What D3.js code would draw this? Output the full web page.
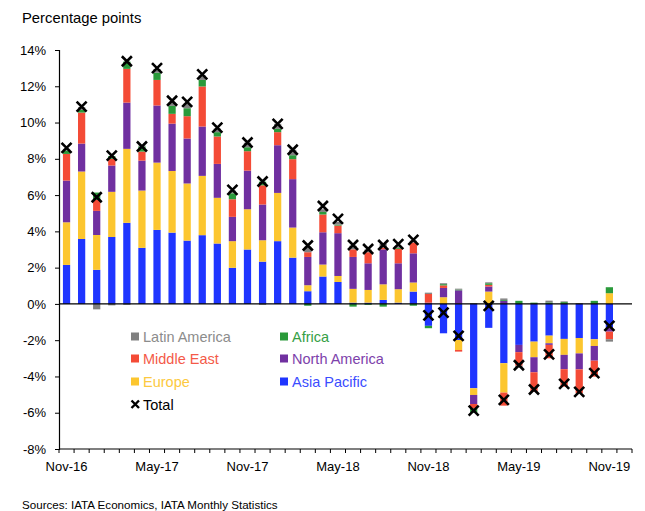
<!DOCTYPE html>
<html>
<head>
<meta charset="utf-8">
<script src="https://cdn.jsdelivr.net/npm/d3@7"></script>
<style>
  body { margin: 0; background: #fff; }
  text { font-family: "Liberation Sans", Arial, sans-serif; }
</style>
</head>
<body>
<div id="chart"></div>
<script>
// months on the category axis
var months = ["Nov-16","Dec-16","Jan-17","Feb-17","Mar-17","Apr-17","May-17","Jun-17","Jul-17","Aug-17","Sep-17","Oct-17",
  "Nov-17","Dec-17","Jan-18","Feb-18","Mar-18","Apr-18","May-18","Jun-18","Jul-18","Aug-18","Sep-18","Oct-18",
  "Nov-18","Dec-18","Jan-19","Feb-19","Mar-19","Apr-19","May-19","Jun-19","Jul-19","Aug-19","Sep-19","Oct-19","Nov-19"];

// contributions by region, percentage points
var asiaPacific = [2.15,3.58,1.88,3.69,4.47,3.09,4.08,3.93,3.49,3.79,3.33,1.99,3.0,2.33,3.46,2.55,0.7,1.51,1.21,0.07,0.07,0.22,0.07,0.68,-1.21,-1.62,-1.99,-4.65,-1.32,-3.27,-2.26,-2.08,-1.75,-1.93,-1.88,-1.95,-1.29];
var europe = [2.35,3.72,1.92,2.49,4.08,3.16,3.71,3.4,3.15,3.27,2.52,1.47,2.22,1.18,2.66,1.66,0.33,0.66,0.33,0.76,0.7,0.86,0.74,0.5,0,0.37,-0.55,-0.37,0.68,-1.62,0,-0.86,-0.42,-0.88,-0.85,-0.37,0.59];
var northAmerica = [2.3,1.54,1.33,1.45,2.55,1.65,3.15,2.61,2.48,2.72,1.87,1.34,2.13,1.97,2.63,2.67,1.56,1.78,2.36,1.76,1.47,1.93,1.43,1.61,0.07,0.51,0.75,-0.5,0.28,0.17,-0.4,-0.83,-0.09,-0.79,-0.88,-0.81,-0.24];
var middleEast = [1.47,1.71,0.61,0.37,1.86,0.5,1.41,0.54,1.23,2.21,1.51,0.97,1.07,1.06,0.72,1.1,0.26,0.98,0.42,0.42,0.61,0.1,0.8,0.6,0.48,0.14,-0.09,-0.24,0.09,-0.72,-0.75,-1.07,-0.74,-0.96,-1.32,-0.88,-0.42];
var africa = [0.18,0.15,0.4,0.15,0.4,0.28,0.4,0.44,0.44,0.36,0.24,0.33,0.22,0.2,0.18,0.22,-0.1,0.14,0.05,-0.15,-0.05,-0.15,0.05,-0.1,-0.13,0.07,0.04,-0.24,0.09,0.05,0.17,0.07,0.08,0.1,0,0.17,0.33];
var latinAmerica = [0.1,0.15,-0.3,-0.08,-0.05,0.05,0.2,0.2,0.25,0.25,0.2,0.15,0.25,-0.05,0.28,0.3,0.3,0.15,0.15,0.2,0.15,0.2,0.1,0.1,0.07,0.05,0.05,0.05,0.05,0.08,-0.1,0,0.1,0.04,0.05,0,-0.13];
var total = [8.6,10.88,5.88,8.18,13.38,8.68,13.0,11.2,11.14,12.66,9.72,6.29,8.9,6.75,9.93,8.5,3.22,5.4,4.69,3.25,3.03,3.25,3.3,3.53,-0.63,-0.48,-1.76,-5.88,-0.11,-5.29,-3.38,-4.72,-2.78,-4.41,-4.85,-3.82,-1.21];

var yTicks = [-8,-6,-4,-2,0,2,4,6,8,10,12,14];

var series = [
  {key: "Asia Pacific", values: asiaPacific, color: "#1f35ff", text: "#3b4dff"},
  {key: "Europe", values: europe, color: "#fcc62f", text: "#fcc940"},
  {key: "North America", values: northAmerica, color: "#7030a0", text: "#7d42ab"},
  {key: "Middle East", values: middleEast, color: "#f44b36", text: "#f45a48"},
  {key: "Africa", values: africa, color: "#2a9a3a", text: "#36a046"},
  {key: "Latin America", values: latinAmerica, color: "#808080", text: "#8c8c8c"}
];

var W = 645, H = 511;
var svg = d3.select("#chart").append("svg")
    .attr("width", W)
    .attr("height", H);

var plotLeft = 59, plotRight = 632, plotTop = 50, plotBottom = 449;

// one empty slot after the last month, as in the original
var x = d3.scaleBand()
    .domain(d3.range(months.length + 1))
    .range([plotLeft, plotRight])
    .paddingInner(0.52)
    .paddingOuter(0.26);

var y = d3.scaleLinear()
    .domain([-8, 14])
    .range([plotBottom, plotTop]);

var slot = (plotRight - plotLeft) / (months.length + 1);

// table for the stack
var table = months.map(function(m, i) {
  var row = {i: i};
  series.forEach(function(s) { row[s.key] = s.values[i]; });
  return row;
});

var stack = d3.stack()
    .keys(series.map(function(s) { return s.key; }))
    .offset(d3.stackOffsetDiverging);

var layers = stack(table);

svg.append("g").selectAll("g")
  .data(layers)
  .enter().append("g")
    .attr("fill", function(d, k) { return series[k].color; })
  .selectAll("rect")
  .data(function(d) { return d; })
  .enter().append("rect")
    .attr("x", function(d) { return x(d.data.i); })
    .attr("width", x.bandwidth())
    .attr("y", function(d) { return y(Math.max(d[0], d[1])); })
    .attr("height", function(d) { return Math.abs(y(d[0]) - y(d[1])); });

// zero line
svg.append("line")
    .attr("x1", plotLeft).attr("x2", plotRight)
    .attr("y1", y(0)).attr("y2", y(0))
    .attr("stroke", "#000").attr("stroke-width", 1.3);

// y axis
var yAxis = svg.append("g")
    .attr("transform", "translate(" + plotLeft + ",0)")
    .call(d3.axisLeft(y).tickValues(yTicks).tickSize(4).tickPadding(9)
      .tickFormat(function(d) { return d + "%"; }));
yAxis.select(".domain").attr("stroke", "#000").attr("stroke-width", 1.2);
yAxis.selectAll("text").attr("font-size", "13px").attr("fill", "#000")
    .style("font-family", "'Liberation Sans', Arial, sans-serif");

// x axis line and ticks at each slot boundary
var xg = svg.append("g");
xg.append("line")
    .attr("x1", plotLeft).attr("x2", plotRight)
    .attr("y1", plotBottom).attr("y2", plotBottom)
    .attr("stroke", "#000").attr("stroke-width", 1.2);
xg.selectAll("line.tick")
  .data(d3.range(months.length + 2))
  .enter().append("line")
    .attr("class", "tick")
    .attr("x1", function(i) { return plotLeft + i * slot; })
    .attr("x2", function(i) { return plotLeft + i * slot; })
    .attr("y1", plotBottom).attr("y2", plotBottom + 4)
    .attr("stroke", "#000").attr("stroke-width", 1);
xg.selectAll("text")
  .data(months.filter(function(m, i) { return i % 6 === 0; }))
  .enter().append("text")
    .attr("x", function(m) { return x(months.indexOf(m)) + x.bandwidth() / 2; })
    .attr("y", plotBottom + 22)
    .attr("text-anchor", "middle")
    .attr("font-size", "13px")
    .text(function(m) { return m; });

// total markers
var cross = 5;
svg.append("g").selectAll("path")
  .data(total)
  .enter().append("path")
    .attr("d", function(v, i) {
      var cx = x(i) + x.bandwidth() / 2, cy = y(v);
      return "M" + (cx - cross) + "," + (cy - cross) + "L" + (cx + cross) + "," + (cy + cross) +
             "M" + (cx - cross) + "," + (cy + cross) + "L" + (cx + cross) + "," + (cy - cross);
    })
    .attr("stroke", "#000")
    .attr("stroke-width", 2.6)
    .attr("fill", "none");

// legend
var legendItems = [
  {s: series[5], col: 0, row: 0},
  {s: series[4], col: 1, row: 0},
  {s: series[3], col: 0, row: 1},
  {s: series[2], col: 1, row: 1},
  {s: series[1], col: 0, row: 2},
  {s: series[0], col: 1, row: 2}
];
var lg = svg.append("g");
var colX = [131, 280], rowY = [337, 359, 382, 405];
legendItems.forEach(function(it) {
  var lx = colX[it.col], ly = rowY[it.row];
  lg.append("rect")
    .attr("x", lx).attr("y", ly - 4.5)
    .attr("width", 8).attr("height", 8)
    .attr("fill", it.s.color);
  lg.append("text")
    .attr("x", lx + 12).attr("y", ly + 5)
    .attr("font-size", "14.5px")
    .attr("fill", it.s.text)
    .text(it.s.key);
});
lg.append("path")
  .attr("d", "M131.5,400.5L139,408M131.5,408L139,400.5")
  .attr("stroke", "#000").attr("stroke-width", 2.4);
lg.append("text")
  .attr("x", 143).attr("y", rowY[3] + 5)
  .attr("font-size", "14.5px")
  .attr("fill", "#000")
  .text("Total");

// titles
svg.append("text")
  .attr("x", 22).attr("y", 23)
  .attr("font-size", "14.8px")
  .text("Percentage points");

svg.append("text")
  .attr("x", 22).attr("y", 509)
  .attr("font-size", "11.6px")
  .text("Sources: IATA Economics, IATA Monthly Statistics");
</script>
</body>
</html>
